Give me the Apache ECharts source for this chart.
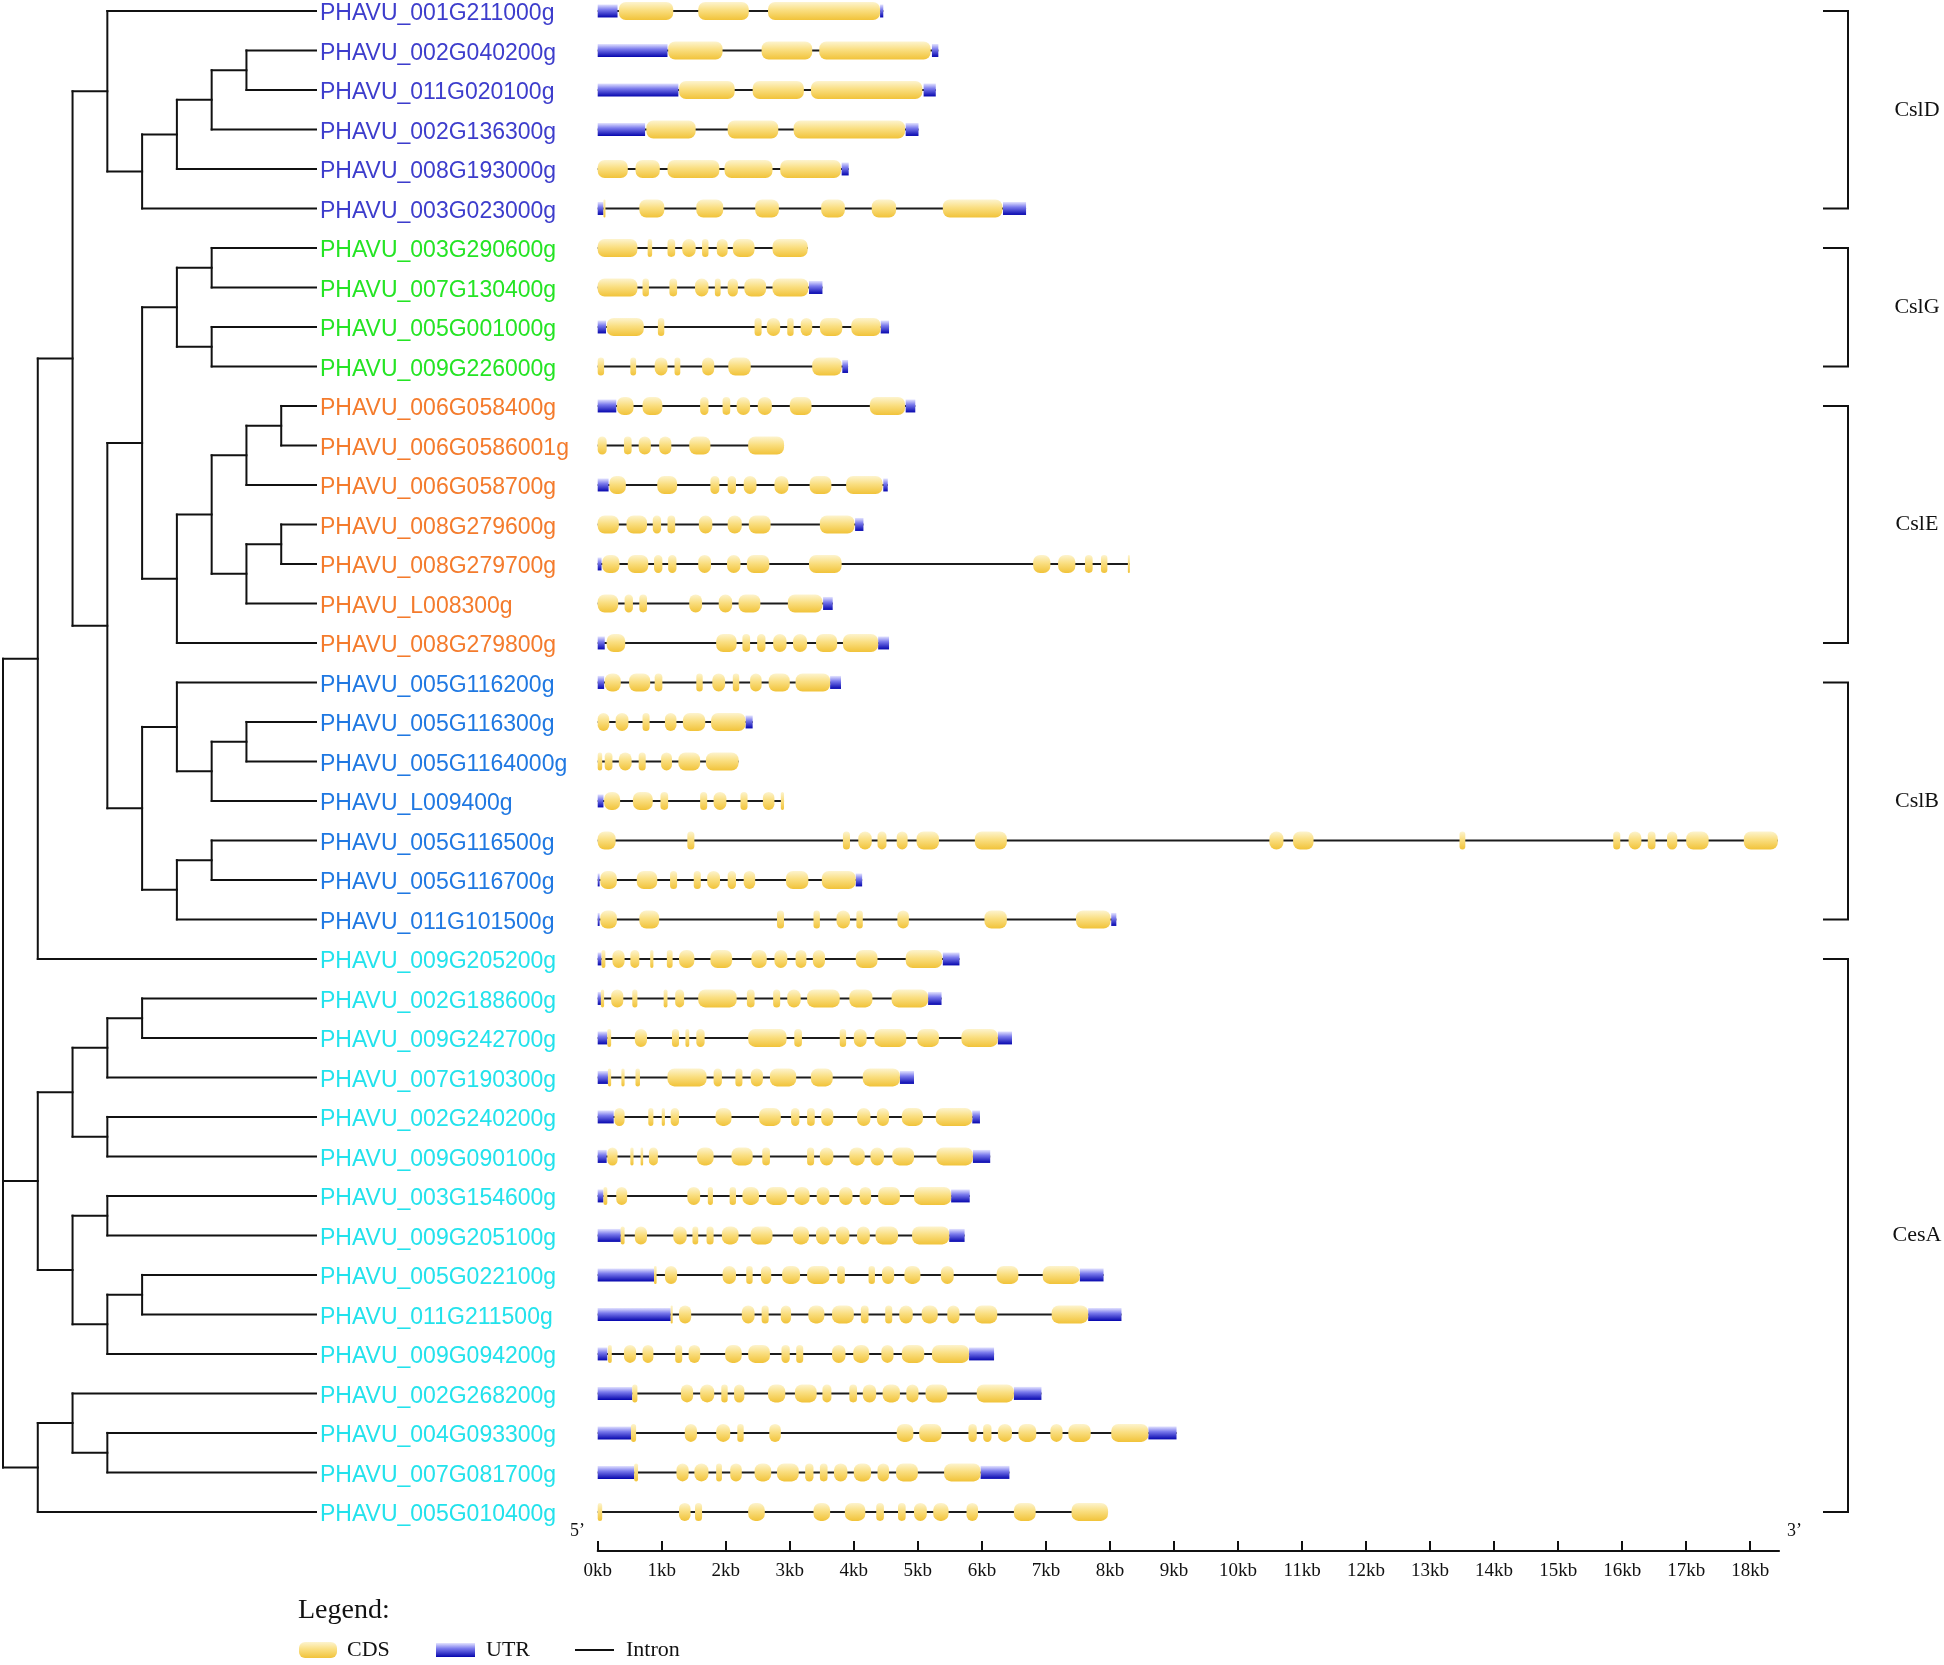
<!DOCTYPE html>
<html><head><meta charset="utf-8">
<script src="https://cdn.jsdelivr.net/npm/echarts@6/dist/echarts.min.js"></script>
<style>html,body{margin:0;padding:0;background:#fff}#c{width:1944px;height:1665px}</style>
</head><body><div id="c"></div>
<script>
// ---------------- DATA ----------------
const geneNames = [
 'PHAVU_001G211000g','PHAVU_002G040200g','PHAVU_011G020100g','PHAVU_002G136300g','PHAVU_008G193000g','PHAVU_003G023000g',
 'PHAVU_003G290600g','PHAVU_007G130400g','PHAVU_005G001000g','PHAVU_009G226000g',
 'PHAVU_006G058400g','PHAVU_006G0586001g','PHAVU_006G058700g','PHAVU_008G279600g','PHAVU_008G279700g','PHAVU_L008300g','PHAVU_008G279800g',
 'PHAVU_005G116200g','PHAVU_005G116300g','PHAVU_005G1164000g','PHAVU_L009400g','PHAVU_005G116500g','PHAVU_005G116700g','PHAVU_011G101500g',
 'PHAVU_009G205200g','PHAVU_002G188600g','PHAVU_009G242700g','PHAVU_007G190300g','PHAVU_002G240200g','PHAVU_009G090100g',
 'PHAVU_003G154600g','PHAVU_009G205100g','PHAVU_005G022100g','PHAVU_011G211500g','PHAVU_009G094200g','PHAVU_002G268200g',
 'PHAVU_004G093300g','PHAVU_007G081700g','PHAVU_005G010400g'
];
const groupNames = ['CslD','CslG','CslE','CslB','CesA'];
const groupSizes = [6,4,7,7,15];
const groupColors = ['#3d3dcc','#24e424','#f47b2c','#1f78e2','#22e2ec'];

// tree topology (leaf numbers = row numbers, 1-based)
const cladeCslD = '(1,((((2,3),4),5),6))';
const cladeCslG = '((7,8),(9,10))';
const cladeCslE = '((((11,12),13),((14,15),16)),17)';
const cladeCslB = '((18,((19,20),21)),((22,23),24))';
const cladeCesA = '((((26,27),28),(29,30)),((31,32),((33,34),35)))';
const cladeLast = '((36,(37,38)),39)';
const cladeTop = '((' + cladeCslD + ',((' + cladeCslG + ',' + cladeCslE + '),' + cladeCslB + ')),25)';
const treeNewick = '(' + cladeTop + ',' + cladeCesA + ',' + cladeLast + ')';

// exon coordinates, kb from gene start
const cdsKb = [
 [[0.33,1.18],[1.57,2.36],[2.66,4.41]],
 [[1.10,1.95],[2.56,3.35],[3.46,5.20]],
 [[1.27,2.14],[2.42,3.22],[3.33,5.07]],
 [[0.76,1.53],[2.03,2.82],[3.06,4.80]],
 [[0,0.47],[0.59,0.97],[1.09,1.90],[1.98,2.73],[2.85,3.80]],
 [[0.09,0.12],[0.65,1.04],[1.54,1.96],[2.46,2.83],[3.49,3.86],[4.28,4.66],[5.39,6.32]],
 [[0,0.62],[0.78,0.85],[1.09,1.21],[1.32,1.53],[1.63,1.73],[1.86,2.03],[2.11,2.45],[2.73,3.28]],
 [[0,0.62],[0.70,0.80],[1.12,1.24],[1.52,1.73],[1.83,1.92],[2.03,2.19],[2.29,2.63],[2.73,3.29]],
 [[0.14,0.72],[0.94,1.04],[2.45,2.56],[2.64,2.85],[2.96,3.06],[3.17,3.35],[3.47,3.82],[3.96,4.42]],
 [[0,0.10],[0.51,0.60],[0.89,1.09],[1.20,1.29],[1.63,1.82],[2.04,2.39],[3.35,3.81]],
 [[0.30,0.56],[0.70,1.01],[1.60,1.73],[1.95,2.07],[2.17,2.38],[2.50,2.72],[3.00,3.34],[4.25,4.80]],
 [[0,0.14],[0.41,0.53],[0.64,0.83],[0.96,1.15],[1.43,1.76],[2.35,2.91]],
 [[0.18,0.44],[0.93,1.24],[1.76,1.90],[2.03,2.16],[2.28,2.48],[2.76,2.98],[3.31,3.65],[3.88,4.45]],
 [[0,0.33],[0.45,0.77],[0.86,0.99],[1.09,1.21],[1.58,1.79],[2.03,2.25],[2.36,2.70],[3.47,4.01]],
 [[0.07,0.34],[0.47,0.79],[0.88,1.01],[1.10,1.23],[1.57,1.77],[2.02,2.23],[2.33,2.68],[3.30,3.81],[6.80,7.07],[7.19,7.46],[7.61,7.73],[7.86,7.96],[8.28,8.31]],
 [[0,0.32],[0.42,0.55],[0.65,0.77],[1.43,1.63],[1.89,2.10],[2.20,2.54],[2.97,3.51]],
 [[0.14,0.43],[1.85,2.17],[2.26,2.38],[2.49,2.62],[2.74,2.95],[3.05,3.27],[3.41,3.74],[3.83,4.38]],
 [[0.11,0.36],[0.49,0.82],[0.89,1.01],[1.54,1.64],[1.79,1.99],[2.11,2.21],[2.38,2.56],[2.67,3.00],[3.09,3.63]],
 [[0,0.18],[0.28,0.48],[0.70,0.81],[1.05,1.23],[1.33,1.68],[1.77,2.31]],
 [[0,0.07],[0.11,0.23],[0.33,0.53],[0.64,0.75],[0.99,1.16],[1.26,1.60],[1.69,2.20]],
 [[0.10,0.35],[0.55,0.86],[0.98,1.10],[1.60,1.71],[1.81,2.01],[2.23,2.34],[2.58,2.76],[2.86,2.91]],
 [[0,0.28],[1.40,1.51],[3.83,3.94],[4.07,4.28],[4.37,4.51],[4.67,4.84],[4.98,5.33],[5.89,6.39],[10.49,10.71],[10.86,11.18],[13.46,13.55],[15.86,15.97],[16.10,16.30],[16.40,16.52],[16.70,16.86],[17.00,17.35],[17.90,18.43]],
 [[0.04,0.30],[0.61,0.93],[1.13,1.24],[1.50,1.61],[1.71,1.91],[2.03,2.16],[2.28,2.46],[2.94,3.29],[3.50,4.03]],
 [[0.04,0.30],[0.65,0.96],[2.80,2.91],[3.37,3.47],[3.73,3.94],[4.04,4.14],[4.68,4.86],[6.04,6.39],[7.47,8.01]],
 [[0.06,0.12],[0.23,0.42],[0.51,0.65],[0.82,0.87],[1.08,1.17],[1.27,1.51],[1.76,2.10],[2.40,2.64],[2.76,2.96],[3.09,3.26],[3.36,3.55],[4.03,4.37],[4.81,5.38]],
 [[0.05,0.10],[0.21,0.40],[0.54,0.62],[1.03,1.09],[1.21,1.35],[1.57,2.17],[2.33,2.45],[2.74,2.85],[2.96,3.17],[3.27,3.78],[3.93,4.29],[4.59,5.16]],
 [[0.15,0.21],[0.58,0.77],[1.16,1.27],[1.37,1.43],[1.54,1.67],[2.35,2.95],[3.07,3.19],[3.78,3.88],[4.00,4.20],[4.32,4.82],[4.99,5.33],[5.68,6.25]],
 [[0.16,0.21],[0.37,0.42],[0.59,0.66],[1.09,1.70],[1.81,1.94],[2.15,2.26],[2.39,2.58],[2.69,3.10],[3.33,3.67],[4.14,4.72]],
 [[0.26,0.42],[0.79,0.87],[1.00,1.05],[1.14,1.27],[1.84,2.09],[2.52,2.86],[3.02,3.15],[3.27,3.39],[3.49,3.68],[4.05,4.26],[4.36,4.55],[4.75,5.08],[5.28,5.85]],
 [[0.15,0.31],[0.51,0.56],[0.67,0.71],[0.80,0.94],[1.55,1.81],[2.09,2.42],[2.57,2.69],[3.27,3.38],[3.47,3.68],[3.93,4.17],[4.26,4.47],[4.60,4.94],[5.29,5.86]],
 [[0.09,0.15],[0.29,0.46],[1.40,1.60],[1.72,1.80],[2.06,2.16],[2.26,2.52],[2.63,2.96],[3.07,3.31],[3.42,3.62],[3.77,3.98],[4.09,4.27],[4.38,4.72],[4.94,5.52]],
 [[0.36,0.42],[0.58,0.77],[1.18,1.39],[1.48,1.57],[1.70,1.81],[1.94,2.20],[2.39,2.73],[3.05,3.30],[3.41,3.62],[3.72,3.93],[4.05,4.25],[4.34,4.69],[4.91,5.49]],
 [[0.88,0.92],[1.05,1.24],[1.95,2.16],[2.32,2.42],[2.55,2.71],[2.88,3.16],[3.27,3.62],[3.74,3.86],[4.23,4.33],[4.44,4.63],[4.79,5.04],[5.36,5.56],[6.23,6.57],[6.95,7.53]],
 [[1.14,1.17],[1.27,1.46],[2.25,2.45],[2.56,2.67],[2.86,3.02],[3.29,3.54],[3.66,4.00],[4.11,4.23],[4.49,4.60],[4.71,4.92],[5.06,5.31],[5.46,5.65],[5.89,6.24],[7.09,7.66]],
 [[0.16,0.22],[0.41,0.60],[0.70,0.87],[1.21,1.32],[1.42,1.60],[1.99,2.25],[2.35,2.69],[2.87,3.00],[3.10,3.21],[3.66,3.87],[3.99,4.24],[4.43,4.62],[4.75,5.10],[5.22,5.80]],
 [[0.54,0.62],[1.30,1.49],[1.60,1.82],[1.93,2.03],[2.13,2.29],[2.66,2.93],[3.08,3.42],[3.51,3.65],[3.93,4.05],[4.14,4.35],[4.45,4.72],[4.82,5.01],[5.12,5.46],[5.92,6.50]],
 [[0.52,0.60],[1.36,1.55],[1.85,2.07],[2.18,2.28],[2.68,2.86],[4.67,4.93],[5.02,5.37],[5.79,5.92],[6.02,6.15],[6.25,6.47],[6.57,6.85],[7.07,7.26],[7.35,7.70],[8.02,8.60]],
 [[0.57,0.63],[1.23,1.42],[1.51,1.73],[1.85,1.94],[2.07,2.25],[2.45,2.71],[2.80,3.14],[3.24,3.37],[3.47,3.59],[3.69,3.90],[4.00,4.27],[4.37,4.55],[4.66,5.00],[5.41,5.98]],
 [[0,0.07],[1.27,1.45],[1.52,1.63],[2.35,2.61],[3.37,3.63],[3.86,4.18],[4.35,4.47],[4.69,4.81],[4.94,5.14],[5.24,5.48],[5.76,5.94],[6.50,6.84],[7.40,7.97]]
];
const utrKb = [
 [[0,0.31],[4.41,4.46]],
 [[0,1.09],[5.22,5.32]],
 [[0,1.26],[5.09,5.28]],
 [[0,0.74],[4.81,5.01]],
 [[3.81,3.92]],
 [[0,0.09],[6.33,6.69]],
 [],
 [[3.30,3.51]],
 [[0,0.13],[4.42,4.55]],
 [[3.82,3.91]],
 [[0,0.29],[4.81,4.96]],
 [],
 [[0,0.17],[4.46,4.53]],
 [[4.02,4.15]],
 [[0,0.06]],
 [[3.52,3.67]],
 [[0,0.11],[4.38,4.55]],
 [[0,0.10],[3.63,3.80]],
 [[2.31,2.42]],
 [],
 [[0,0.09]],
 [],
 [[0,0.03],[4.03,4.13]],
 [[0,0.03],[8.02,8.10]],
 [[0,0.06],[5.39,5.65]],
 [[0,0.05],[5.16,5.37]],
 [[0,0.15],[6.25,6.47]],
 [[0,0.16],[4.72,4.94]],
 [[0,0.25],[5.85,5.97]],
 [[0,0.14],[5.86,6.13]],
 [[0,0.09],[5.52,5.81]],
 [[0,0.36],[5.49,5.73]],
 [[0,0.88],[7.53,7.90]],
 [[0,1.14],[7.66,8.18]],
 [[0,0.15],[5.80,6.19]],
 [[0,0.54],[6.50,6.93]],
 [[0,0.52],[8.60,9.04]],
 [[0,0.57],[5.98,6.43]],
 []
];
const kbTicks = [0,1,2,3,4,5,6,7,8,9,10,11,12,13,14,15,16,17,18];
const legendItems = ['CDS','UTR','Intron'];

// ---------------- BUILD ----------------
const TIP = 9;
function parseNewick(s){
  let pos = 0;
  function node(depth){
    if (s[pos] === '('){
      pos++;
      const ch = [];
      while (true){
        ch.push(node(depth+1));
        if (s[pos] === ','){ pos++; continue; }
        break;
      }
      pos++; // ')'
      return {depth, children: ch};
    }
    let num = '';
    while (pos < s.length && /\d/.test(s[pos])) num += s[pos++];
    return {depth, leaf: parseInt(num,10)-1};
  }
  return node(0);
}
const treeSegments = [];
(function layout(n){
  if (n.children){
    n.children.forEach(layout);
    const f = n.children[0], l = n.children[n.children.length-1];
    n.x = n.depth; n.y = (f.y + l.y)/2;
    treeSegments.push([n.depth, f.y, n.depth, l.y]);
    n.children.forEach(c => treeSegments.push([n.depth, c.y, c.x, c.y]));
  } else { n.x = TIP; n.y = n.leaf; }
})(parseNewick(treeNewick));

const geneGroup = [];
groupSizes.forEach((s,g)=>{ for(let k=0;k<s;k++) geneGroup.push(g); });
const groupRanges = [];
{ let st = 0; groupSizes.forEach((s,g)=>{ groupRanges.push([st, st+s-1, g]); st += s; }); }

const cdsGrad = () => new echarts.graphic.LinearGradient(0,0,0,1,[
  {offset:0,color:'#fdf4cf'},{offset:0.45,color:'#fadf82'},{offset:1,color:'#f1c33a'}]);
const utrGrad = () => new echarts.graphic.LinearGradient(0,0,0,1,[
  {offset:0,color:'#e4e4ff'},{offset:0.4,color:'#7a7aec'},{offset:1,color:'#0606ae'}]);

const Y_MIN = -0.25, Y_MAX = 38.99;
const GRID_TOP = 1.1, GRID_H = 1549.9;
const SERIF = '"Liberation Serif","DejaVu Serif",serif';
const SANS = '"Liberation Sans",Arial,sans-serif';

function yAx(i){ return {gridIndex:i, type:'value', inverse:true, min:Y_MIN, max:Y_MAX, show:false}; }

const option = {
  animation: false,
  backgroundColor: '#ffffff',
  grid: [
    {left:3, top:GRID_TOP, width:313, height:GRID_H},
    {left:597.7, top:GRID_TOP, width:18.45*64.03, height:GRID_H},
    {left:1823, top:GRID_TOP, width:100, height:GRID_H}
  ],
  xAxis: [
    {gridIndex:0, type:'value', min:0, max:TIP, show:false},
    {gridIndex:1, type:'value', min:0, max:18.45, interval:1,
     axisLine:{show:true, onZero:false, lineStyle:{color:'#111', width:2}},
     axisTick:{show:true, inside:true, length:10, customValues:kbTicks, lineStyle:{color:'#111', width:2}},
     axisLabel:{show:true, customValues:kbTicks, margin:11, color:'#111', fontFamily:SERIF, fontSize:19,
       formatter: v => (Math.abs(v-Math.round(v))<1e-6 ? Math.round(v)+'kb' : '')},
     splitLine:{show:false}},
    {gridIndex:2, type:'value', min:0, max:1, show:false}
  ],
  yAxis: [yAx(0), yAx(1), yAx(2)],
  series: [
    { // tree
      type:'custom', name:'tree', xAxisIndex:0, yAxisIndex:0, clip:false,
      data: treeSegments,
      renderItem: (params, api) => {
        const a = api.coord([api.value(0), api.value(1)]);
        const b = api.coord([api.value(2), api.value(3)]);
        return {type:'line', shape:{x1:a[0],y1:a[1],x2:b[0],y2:b[1]},
                style:{stroke:'#111', lineWidth:2, lineCap:'square'}};
      }
    },
    { // gene labels
      type:'custom', name:'labels', xAxisIndex:0, yAxisIndex:0, clip:false,
      data: geneNames.map((n,i)=>[TIP, i]),
      renderItem: (params, api) => {
        const i = params.dataIndex;
        const p = api.coord([api.value(0), api.value(1)]);
        return {type:'text', x:p[0]+4, y:p[1]+3,
          style:{text:geneNames[i], fill:groupColors[geneGroup[i]], fontSize:23, fontFamily:SANS,
                 align:'left', verticalAlign:'middle'}};
      }
    },
    { // gene structures
      type:'custom', name:'genes', xAxisIndex:1, yAxisIndex:1, clip:false,
      data: geneNames.map((n,i)=>[0, i]),
      renderItem: (params, api) => {
        const i = params.dataIndex;
        const row = api.value(1);
        const cds = cdsKb[i], utr = utrKb[i];
        const all = cds.concat(utr);
        const s = Math.min(...all.map(d=>d[0])), e = Math.max(...all.map(d=>d[1]));
        const p0 = api.coord([s,row]), p1 = api.coord([e,row]);
        const ch = [{type:'line', shape:{x1:p0[0],y1:p0[1],x2:p1[0],y2:p1[1]},
                     style:{stroke:'#1c1c1c', lineWidth:2}}];
        utr.forEach(([a,b])=>{
          const q0 = api.coord([a,row]), q1 = api.coord([b,row]);
          ch.push({type:'rect', shape:{x:q0[0], y:q0[1]-6.5, width:Math.max(q1[0]-q0[0],1.5), height:13},
                   style:{fill:utrGrad()}});
        });
        cds.forEach(([a,b])=>{
          const q0 = api.coord([a,row]), q1 = api.coord([b,row]);
          const w = Math.max(q1[0]-q0[0], 2);
          ch.push({type:'rect', shape:{x:q0[0], y:q0[1]-9, width:w, height:18, r:Math.min(7, w/2)},
                   style:{fill:cdsGrad()}});
        });
        return {type:'group', children:ch};
      }
    },
    { // group brackets
      type:'custom', name:'groups', xAxisIndex:2, yAxisIndex:2, clip:false,
      data: groupRanges,
      renderItem: (params, api) => {
        const g = api.value(2);
        const a = api.coord([0, api.value(0)]), b = api.coord([0, api.value(1)]);
        const x = a[0];
        return {type:'group', children:[
          {type:'polyline', shape:{points:[[x,a[1]],[x+25,a[1]],[x+25,b[1]],[x,b[1]]]},
           style:{stroke:'#111', lineWidth:2, fill:null}},
          {type:'text', x:x+94, y:(a[1]+b[1])/2,
           style:{text:groupNames[g], fill:'#111', fontSize:22, fontFamily:SERIF, align:'center', verticalAlign:'middle'}}
        ]};
      }
    }
  ],
  graphic: [
    {type:'text', left:570, top:1522, style:{text:'5\u2019', fill:'#111', fontSize:18, fontFamily:SERIF}},
    {type:'text', left:1787, top:1522, style:{text:'3\u2019', fill:'#111', fontSize:18, fontFamily:SERIF}},
    {type:'text', left:298, top:1597, style:{text:'Legend:', fill:'#111', fontSize:28, fontFamily:SERIF}},
    {type:'rect', left:299, top:1642, shape:{width:38, height:16, r:6}, style:{fill:cdsGrad()}},
    {type:'text', left:347, top:1639, style:{text:legendItems[0], fill:'#111', fontSize:22, fontFamily:SERIF}},
    {type:'rect', left:436, top:1643, shape:{width:39, height:14}, style:{fill:utrGrad()}},
    {type:'text', left:486, top:1639, style:{text:legendItems[1], fill:'#111', fontSize:22, fontFamily:SERIF}},
    {type:'rect', left:575, top:1649, shape:{width:39, height:2}, style:{fill:'#111'}},
    {type:'text', left:626, top:1639, style:{text:legendItems[2], fill:'#111', fontSize:22, fontFamily:SERIF}}
  ]
};
const chart = echarts.init(document.getElementById('c'), null, {renderer:'canvas'});
chart.setOption(option);
</script>
</body></html>
